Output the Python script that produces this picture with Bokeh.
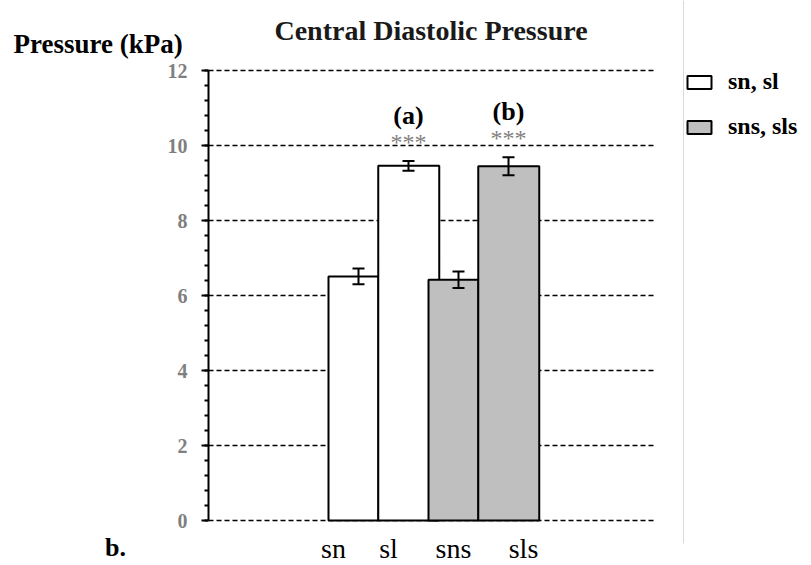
from bokeh.plotting import figure
from bokeh.models import (Range1d, FixedTicker, Legend, LegendItem, Label, LabelSet,
                          Arrow, Whisker, TeeHead, ColumnDataSource, LinearAxis)
from bokeh.embed import file_html
from bokeh.resources import INLINE

# ---------------- data ----------------
categories = ["sn", "sl", "sns", "sls"]
means = [6.51, 9.46, 6.42, 9.45]
errors = [0.21, 0.13, 0.22, 0.24]
groups = ["sn, sl", "sn, sl", "sns, sls", "sns, sls"]
stars = ["", "***", "", "***"]
letters = ["", "(a)", "", "(b)"]
y_ticks = [0, 2, 4, 6, 8, 10, 12]
title_text = "Central Diastolic Pressure"
y_title = "Pressure (kPa)"
panel_tag = "b."

# ---------------- styling / layout ----------------
SERIF = "Liberation Serif, Times New Roman, serif"
group_fill = {"sn, sl": "#ffffff", "sns, sls": "#bfbfbf"}
bar_width = [1.0, 1.22, 1.0, 1.22]
bar_shift = [0.0, 0.105, 0.0, 0.105]
whisker_shift = 0.1
label_shift = [-0.4, -0.3, 0.0, 0.4]

idx = list(range(len(categories)))
W, H = 811, 565
XR = (-7.06, 9.16)        # whole canvas is the frame
YR = (-1.2, 13.867)
AX_L, AX_R = -2.9, 6.0    # extent of the plotting area
Y0, Y1 = y_ticks[0], y_ticks[-1]

p = figure(width=W, height=H, x_range=Range1d(*XR), y_range=Range1d(*YR),
           output_backend="svg", toolbar_location=None,
           min_border_left=0, min_border_right=0, min_border_top=0, min_border_bottom=0,
           x_axis_location=None, y_axis_location=None)
p.outline_line_color = None
p.grid.visible = False
p.background_fill_color = "white"
p.border_fill_color = "white"

# grid lines (dashed) across the plotting area
p.segment(x0=[AX_L] * len(y_ticks), x1=[AX_R] * len(y_ticks), y0=y_ticks, y1=y_ticks,
          line_color="black", line_dash="5 3", line_width=1.5)

# y axis
minor = [round(0.4 * k, 1) for k in range(31)]
yax = LinearAxis(fixed_location=AX_L, bounds=(Y0, Y1),
                 ticker=FixedTicker(ticks=y_ticks, minor_ticks=minor))
yax.axis_line_color = "black"
yax.axis_line_width = 2
yax.major_tick_line_color = "black"
yax.major_tick_line_width = 2
yax.major_tick_out = 7
yax.major_tick_in = 0
yax.minor_tick_line_color = "black"
yax.minor_tick_line_width = 2
yax.minor_tick_out = 4
yax.minor_tick_in = 0
yax.major_label_standoff = 14
yax.major_label_text_font = SERIF
yax.major_label_text_font_style = "bold"
yax.major_label_text_font_size = "20px"
yax.major_label_text_color = "#7f7f7f"
p.add_layout(yax, "left")

# bars
src = ColumnDataSource(dict(
    x=[i + s for i, s in zip(idx, bar_shift)],
    w=bar_width,
    top=means,
    fill=[group_fill[g] for g in groups],
    group=groups,
))
bars = p.vbar(x="x", width="w", top="top", bottom=0, source=src,
              fill_color="fill", line_color="black", line_width=2)

# error bars
esrc = ColumnDataSource(dict(
    x=[i + whisker_shift for i in idx],
    upper=[m + e for m, e in zip(means, errors)],
    lower=[m - e for m, e in zip(means, errors)],
))
wh = Whisker(base="x", upper="upper", lower="lower", source=esrc, dimension="height",
             line_color="black", line_width=2, level="overlay",
             upper_head=TeeHead(size=12, line_color="black", line_width=2),
             lower_head=TeeHead(size=12, line_color="black", line_width=2))
p.add_layout(wh)

# significance annotations
for i, (m, e, s, l) in enumerate(zip(means, errors, stars, letters)):
    xc = i + whisker_shift
    if s:
        p.add_layout(Label(x=xc, y=m + e + 0.5, text=s, text_align="center",
                           text_baseline="alphabetic", text_font=SERIF,
                           text_font_size="24px", text_color="#7f7f7f"))
    if l:
        p.add_layout(Label(x=xc, y=m + e + 1.21, text=l, text_align="center",
                           text_baseline="alphabetic", text_font=SERIF,
                           text_font_style="bold", text_font_size="26px",
                           text_color="black"))

# category labels (below the plot)
lsrc = ColumnDataSource(dict(x=[i + s for i, s in zip(idx, label_shift)],
                             y=[-0.99] * len(categories), text=categories))
p.add_layout(LabelSet(x="x", y="y", text="text", source=lsrc, text_align="center",
                      text_baseline="alphabetic", text_font=SERIF,
                      text_font_size="28px", text_color="black"))

# titles
p.add_layout(Label(x=(AX_L + AX_R) / 2, y=13.07, text=title_text, text_align="center",
                   text_baseline="alphabetic", text_font=SERIF, text_font_style="bold",
                   text_font_size="28px", text_color="#1a1a1a"))
p.add_layout(Label(x=-6.8, y=12.72, text=y_title, text_align="left",
                   text_baseline="alphabetic", text_font=SERIF, text_font_style="bold",
                   text_font_size="27px", text_color="black"))
p.add_layout(Label(x=-4.76, y=-0.72, text=panel_tag, text_align="center",
                   text_baseline="alphabetic", text_font=SERIF, text_font_style="bold",
                   text_font_size="26px", text_color="black"))

# separator line at right
p.add_layout(Arrow(end=None, x_start=6.6, y_start=-0.61, x_end=6.6, y_end=YR[1],
                   line_color="#d9d9d9", line_width=1))

# legend
legend = Legend(items=[LegendItem(label="sn, sl", renderers=[bars], index=0),
                       LegendItem(label="sns, sls", renderers=[bars], index=2)],
                location=(684, 425), margin=0, padding=0, spacing=18,
                glyph_width=30, glyph_height=16, label_height=22, label_standoff=14,
                label_text_font=SERIF, label_text_font_style="bold",
                label_text_font_size="24px", label_text_color="black",
                border_line_color=None, background_fill_alpha=0)
p.add_layout(legend, "center")

open("out.html", "w").write(file_html(p, INLINE))
